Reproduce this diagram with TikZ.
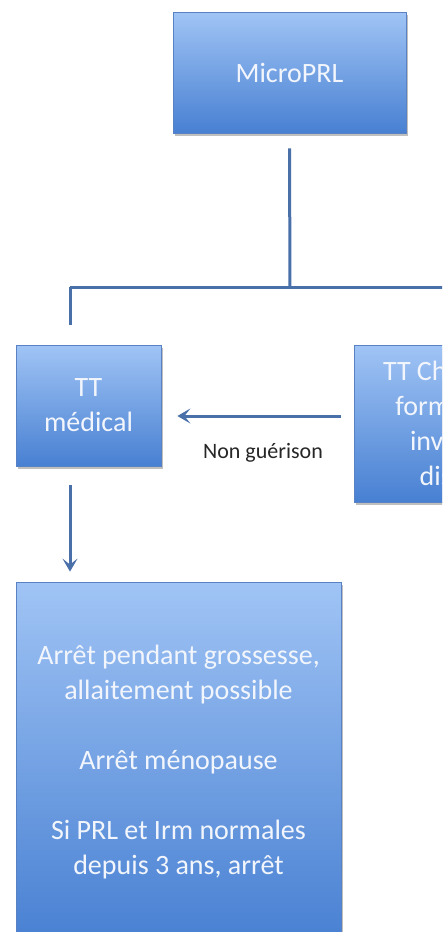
\documentclass[tikz,border=0pt]{standalone}
\usepackage{fontspec}
\setmainfont{Carlito}
\usetikzlibrary{arrows.meta,shadows}
\definecolor{boxtop}{RGB}{160,196,245}
\definecolor{boxbot}{RGB}{72,128,210}
\definecolor{boxline}{RGB}{88,130,195}
\definecolor{connc}{RGB}{74,112,170}
\definecolor{boxtext}{RGB}{242,246,252}
\tikzset{
  bluebox/.style={draw=boxline, line width=0.8pt, top color=boxtop, bottom color=boxbot,
    inner sep=0pt, align=center, text=boxtext, font=\fontsize{28}{35}\selectfont,
    drop shadow={shadow xshift=1.5pt, shadow yshift=-2.5pt, opacity=0.25, fill=black}},
  conn/.style={draw=connc, line width=3pt},
  arr/.style={conn, -{Stealth[length=13pt, width=15pt, inset=6pt]}},
  lbl/.style={font=\fontsize{22}{26}\selectfont, text=black!85}
}
\begin{document}
\begin{tikzpicture}[x=1pt, y=-1pt]
\useasboundingbox (0,0) rectangle (442,932);
\fill[white] (0,0) rectangle (442,932);
\clip (0,0) rectangle (442,932);
\node[bluebox, minimum width=233pt, minimum height=121pt] (micro) at (289.5,72.5) {MicroPRL};
\node[bluebox, minimum width=145pt, minimum height=121pt] (med) at (88.5,405.5) {TT\\médical};
\node[bluebox, minimum width=213pt, minimum height=157pt] (chir) at (460.5,423.5) {TT Chirurgical\\formes non\\invasives\\discuté};
\node[bluebox, minimum width=325pt, minimum height=360pt] (suivi) at (178.5,762) {Arrêt pendant grossesse,\\allaitement possible\\[35pt]Arrêt ménopause\\[35pt]Si PRL et Irm normales\\depuis 3 ans, arrêt};
\coordinate (j) at (290,287);
\coordinate (jl) at (70,287);
\coordinate (jr) at (450,287);
\draw[conn] ([yshift=-15pt]micro.south) -- (j);
\draw[conn] (jl) -- (jr);
\draw[conn] ([yshift=-38pt]jl) -- (jl);
\draw[arr] ([xshift=-13pt,yshift=7.5pt]chir.west) -- ([xshift=16pt,yshift=-10.5pt]med.east);
\node[lbl] (ng) at (263,453) {Non guérison};
\draw[arr] ([xshift=-18.5pt,yshift=-19pt]med.south) -- ([xshift=-108.5pt,yshift=10pt]suivi.north);
\end{tikzpicture}
\end{document}
